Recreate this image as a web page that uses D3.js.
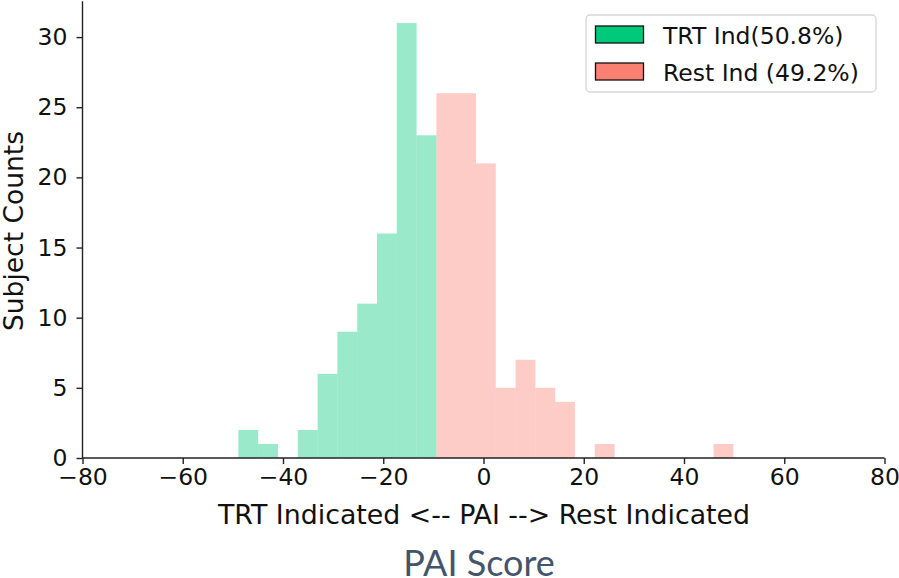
<!DOCTYPE html>
<html>
<head>
<meta charset="utf-8">
<script src="https://cdn.jsdelivr.net/npm/d3@7"></script>
<style>
  html, body { margin: 0; padding: 0; background: #fff; }
  svg { display: block; }
  text { font-family: "DejaVu Sans", sans-serif; fill: #111; }
</style>
</head>
<body>
<svg id="chart" width="899" height="578"></svg>
<script>
// ---- data ----
const binWidth = 3.95;
const trtBinStart = [-48.9, -44.95, -37.05, -33.1, -29.15, -25.2, -21.25, -17.3, -13.35];
const trtCounts   = [2, 1, 2, 6, 9, 11, 16, 31, 23];
const restBinStart = [-9.4, -5.45, -1.5, 2.45, 6.4, 10.35, 14.3, 22.2, 45.9];
const restCounts   = [26, 26, 21, 5, 7, 5, 4, 1, 1];
const xTicks = [-80, -60, -40, -20, 0, 20, 40, 60, 80];
const yTicks = [0, 5, 10, 15, 20, 25, 30];
const legendLabels = ["TRT Ind(50.8%)", "Rest Ind (49.2%)"];
const xDomain = [-80, 80];
const yDomain = [0, 32.55];

const colors = { trt: "#00C97B", rest: "#FA8072" };

const svg = d3.select("#chart");
const x = d3.scaleLinear().domain(xDomain).range([82.5, 884.5]);
const y = d3.scaleLinear().domain(yDomain).range([458, 1.3]);

function drawBars(starts, counts, color) {
  const data = starts.map((s, i) => ({ s, c: counts[i] }));
  svg.append("g").selectAll("rect").data(data).join("rect")
    .attr("x", d => x(d.s))
    .attr("width", d => x(d.s + binWidth) - x(d.s))
    .attr("y", d => y(d.c))
    .attr("height", d => y(0) - y(d.c))
    .attr("fill", color)
    .attr("fill-opacity", 0.4);
}
drawBars(trtBinStart, trtCounts, colors.trt);
drawBars(restBinStart, restCounts, colors.rest);

// axes
const xAxis = d3.axisBottom(x).tickValues(xTicks).tickSize(6).tickPadding(4)
  .tickFormat(d => d < 0 ? "\u2212" + Math.abs(d) : String(d));
const gx = svg.append("g").attr("transform", `translate(0,${y(0)})`).call(xAxis);
const yAxis = d3.axisLeft(y).tickValues(yTicks).tickSize(6).tickPadding(9);
const gy = svg.append("g").attr("transform", `translate(${x(-80)},0)`).call(yAxis);

[gx, gy].forEach(g => {
  g.select(".domain").attr("stroke", "#222").attr("stroke-width", 1.4);
  g.selectAll(".tick line").attr("stroke", "#222").attr("stroke-width", 1.4);
  g.selectAll(".tick text").attr("font-family", "DejaVu Sans").attr("font-size", 23.5).attr("fill", "#111");
});
gx.select(".domain").attr("d", `M${x(-80)},0H${x(80)}`);
gy.select(".domain").attr("d", `M0,${y(0)}V${y(yDomain[1])}`);

// axis labels
svg.append("text")
  .attr("x", 484).attr("y", 524)
  .attr("text-anchor", "middle")
  .attr("font-size", 26.8)
  .text("TRT Indicated <-- PAI --> Rest Indicated");

svg.append("text")
  .attr("transform", "translate(23,231) rotate(-90)")
  .attr("text-anchor", "middle")
  .attr("font-size", 26.5)
  .text("Subject Counts");

svg.append("text")
  .attr("x", 479).attr("y", 576)
  .attr("text-anchor", "middle")
  .style("font-family", "Lato, 'Open Sans', sans-serif")
  .attr("font-size", 36)
  .style("fill", "#44546A")
  .text("PAI Score");

// legend
const lg = svg.append("g");
lg.append("rect")
  .attr("x", 586).attr("y", 15).attr("width", 290).attr("height", 77)
  .attr("rx", 4).attr("fill", "#fff").attr("fill-opacity", 0.8)
  .attr("stroke", "#d6d6d6").attr("stroke-width", 1.3);
const items = [
  { label: legendLabels[0], color: colors.trt, y: 26 },
  { label: legendLabels[1], color: colors.rest, y: 63 }
];
items.forEach(it => {
  lg.append("rect")
    .attr("x", 595.5).attr("y", it.y).attr("width", 48).attr("height", 17)
    .attr("fill", it.color).attr("stroke", "#111").attr("stroke-width", 1.3);
  lg.append("text")
    .attr("x", 663).attr("y", it.y + 17.5)
    .attr("font-size", 23.5)
    .text(it.label);
});
</script>
</body>
</html>
